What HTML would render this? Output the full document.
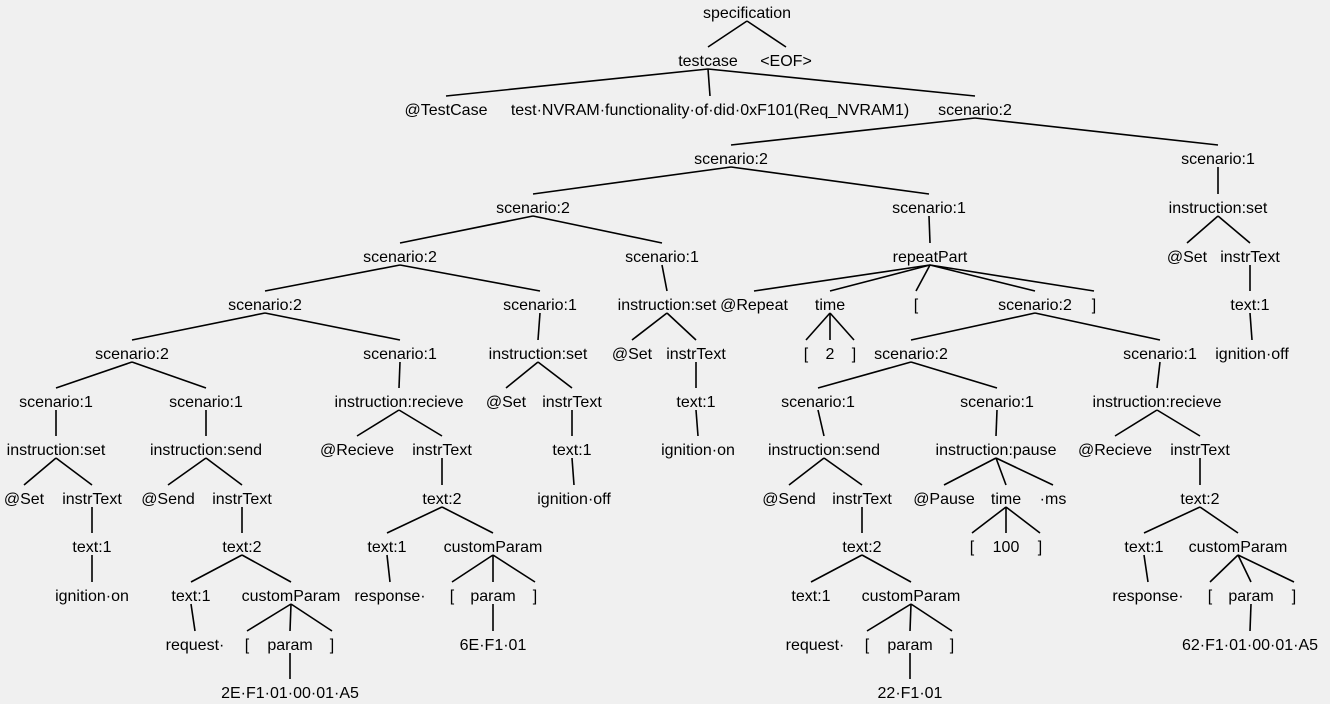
<!DOCTYPE html>
<html><head><meta charset="utf-8"><style>
html,body{margin:0;padding:0;background:#f0f0f0;}
svg{display:block;}
text{font-family:"Liberation Sans",sans-serif;font-size:16px;fill:#000;text-anchor:middle;}
line{stroke:#000;stroke-width:1.6;}
</style></head><body>
<svg width="1330" height="704" viewBox="0 0 1330 704">
<rect width="1330" height="704" fill="#f0f0f0"/>
<g>
<line x1="747" y1="21" x2="708" y2="47"/><line x1="747" y1="21" x2="786" y2="47"/>
<line x1="708" y1="69" x2="446" y2="96"/><line x1="708" y1="69" x2="710" y2="96"/><line x1="708" y1="69" x2="975" y2="96"/>
<line x1="975" y1="118" x2="731" y2="145"/><line x1="975" y1="118" x2="1218" y2="145"/>
<line x1="731" y1="167" x2="533" y2="194"/><line x1="731" y1="167" x2="929" y2="194"/><line x1="1218" y1="167" x2="1218" y2="194"/>
<line x1="533" y1="216" x2="400" y2="243"/><line x1="533" y1="216" x2="662" y2="243"/><line x1="929" y1="216" x2="930" y2="243"/><line x1="1218" y1="216" x2="1187" y2="243"/><line x1="1218" y1="216" x2="1250" y2="243"/>
<line x1="400" y1="265" x2="265" y2="291"/><line x1="400" y1="265" x2="540" y2="291"/><line x1="662" y1="265" x2="667" y2="291"/>
<line x1="930" y1="265" x2="754" y2="291"/><line x1="930" y1="265" x2="830" y2="291"/><line x1="930" y1="265" x2="916" y2="291"/><line x1="930" y1="265" x2="1035" y2="291"/><line x1="930" y1="265" x2="1094" y2="291"/><line x1="1250" y1="265" x2="1250" y2="291"/>
<line x1="265" y1="313" x2="132" y2="340"/><line x1="265" y1="313" x2="400" y2="340"/><line x1="540" y1="313" x2="538" y2="340"/><line x1="667" y1="313" x2="632" y2="340"/><line x1="667" y1="313" x2="696" y2="340"/>
<line x1="830" y1="313" x2="806" y2="340"/><line x1="830" y1="313" x2="830" y2="340"/><line x1="830" y1="313" x2="854" y2="340"/><line x1="1035" y1="313" x2="911" y2="340"/><line x1="1035" y1="313" x2="1160" y2="340"/><line x1="1250" y1="313" x2="1252" y2="340"/>
<line x1="132" y1="362" x2="56" y2="388"/><line x1="132" y1="362" x2="206" y2="388"/><line x1="400" y1="362" x2="399" y2="388"/><line x1="538" y1="362" x2="506" y2="388"/><line x1="538" y1="362" x2="572" y2="388"/><line x1="696" y1="362" x2="696" y2="388"/><line x1="911" y1="362" x2="818" y2="388"/><line x1="911" y1="362" x2="997" y2="388"/><line x1="1160" y1="362" x2="1157" y2="388"/>
<line x1="56" y1="410" x2="56" y2="436"/><line x1="206" y1="410" x2="206" y2="436"/><line x1="399" y1="410" x2="357" y2="436"/><line x1="399" y1="410" x2="442" y2="436"/><line x1="572" y1="410" x2="572" y2="436"/><line x1="696" y1="410" x2="698" y2="436"/><line x1="818" y1="410" x2="824" y2="436"/><line x1="997" y1="410" x2="996" y2="436"/><line x1="1157" y1="410" x2="1115" y2="436"/><line x1="1157" y1="410" x2="1200" y2="436"/>
<line x1="56" y1="458" x2="24" y2="485"/><line x1="56" y1="458" x2="92" y2="485"/><line x1="206" y1="458" x2="168" y2="485"/><line x1="206" y1="458" x2="242" y2="485"/><line x1="442" y1="458" x2="442" y2="485"/><line x1="572" y1="458" x2="574" y2="485"/><line x1="824" y1="458" x2="789" y2="485"/><line x1="824" y1="458" x2="862" y2="485"/><line x1="996" y1="458" x2="944" y2="485"/><line x1="996" y1="458" x2="1006" y2="485"/><line x1="996" y1="458" x2="1053" y2="485"/><line x1="1200" y1="458" x2="1200" y2="485"/>
<line x1="92" y1="507" x2="92" y2="533"/><line x1="242" y1="507" x2="242" y2="533"/><line x1="442" y1="507" x2="387" y2="533"/><line x1="442" y1="507" x2="493" y2="533"/><line x1="862" y1="507" x2="862" y2="533"/><line x1="1006" y1="507" x2="972" y2="533"/><line x1="1006" y1="507" x2="1006" y2="533"/><line x1="1006" y1="507" x2="1040" y2="533"/><line x1="1200" y1="507" x2="1144" y2="533"/><line x1="1200" y1="507" x2="1238" y2="533"/>
<line x1="92" y1="555" x2="92" y2="582"/><line x1="242" y1="555" x2="191" y2="582"/><line x1="242" y1="555" x2="291" y2="582"/><line x1="387" y1="555" x2="390" y2="582"/><line x1="493" y1="555" x2="452" y2="582"/><line x1="493" y1="555" x2="493" y2="582"/><line x1="493" y1="555" x2="535" y2="582"/><line x1="862" y1="555" x2="811" y2="582"/><line x1="862" y1="555" x2="911" y2="582"/><line x1="1144" y1="555" x2="1148" y2="582"/><line x1="1238" y1="555" x2="1210" y2="582"/><line x1="1238" y1="555" x2="1251" y2="582"/><line x1="1238" y1="555" x2="1294" y2="582"/>
<line x1="191" y1="604" x2="195" y2="631"/><line x1="291" y1="604" x2="247" y2="631"/><line x1="291" y1="604" x2="290" y2="631"/><line x1="291" y1="604" x2="332" y2="631"/><line x1="493" y1="604" x2="493" y2="631"/><line x1="911" y1="604" x2="867" y2="631"/><line x1="911" y1="604" x2="910" y2="631"/><line x1="911" y1="604" x2="952" y2="631"/><line x1="1251" y1="604" x2="1250" y2="631"/>
<line x1="290" y1="653" x2="290" y2="679"/><line x1="910" y1="653" x2="910" y2="679"/>
</g>
<g>
<text x="747" y="18">specification</text>
<text x="708" y="66">testcase</text><text x="786" y="66">&lt;EOF&gt;</text>
<text x="446" y="115">@TestCase</text><text x="710" y="115">test·NVRAM·functionality·of·did·0xF101(Req_NVRAM1)</text><text x="975" y="115">scenario:2</text>
<text x="731" y="164">scenario:2</text><text x="1218" y="164">scenario:1</text>
<text x="533" y="213">scenario:2</text><text x="929" y="213">scenario:1</text><text x="1218" y="213">instruction:set</text>
<text x="400" y="262">scenario:2</text><text x="662" y="262">scenario:1</text><text x="930" y="262">repeatPart</text><text x="1187" y="262">@Set</text><text x="1250" y="262">instrText</text>
<text x="265" y="310">scenario:2</text><text x="540" y="310">scenario:1</text><text x="667" y="310">instruction:set</text><text x="754" y="310">@Repeat</text><text x="830" y="310">time</text><text x="916" y="310">[</text><text x="1035" y="310">scenario:2</text><text x="1094" y="310">]</text><text x="1250" y="310">text:1</text>
<text x="132" y="359">scenario:2</text><text x="400" y="359">scenario:1</text><text x="538" y="359">instruction:set</text><text x="632" y="359">@Set</text><text x="696" y="359">instrText</text><text x="806" y="359">[</text><text x="830" y="359">2</text><text x="854" y="359">]</text><text x="911" y="359">scenario:2</text><text x="1160" y="359">scenario:1</text><text x="1252" y="359">ignition·off</text>
<text x="56" y="407">scenario:1</text><text x="206" y="407">scenario:1</text><text x="399" y="407">instruction:recieve</text><text x="506" y="407">@Set</text><text x="572" y="407">instrText</text><text x="696" y="407">text:1</text><text x="818" y="407">scenario:1</text><text x="997" y="407">scenario:1</text><text x="1157" y="407">instruction:recieve</text>
<text x="56" y="455">instruction:set</text><text x="206" y="455">instruction:send</text><text x="357" y="455">@Recieve</text><text x="442" y="455">instrText</text><text x="572" y="455">text:1</text><text x="698" y="455">ignition·on</text><text x="824" y="455">instruction:send</text><text x="996" y="455">instruction:pause</text><text x="1115" y="455">@Recieve</text><text x="1200" y="455">instrText</text>
<text x="24" y="504">@Set</text><text x="92" y="504">instrText</text><text x="168" y="504">@Send</text><text x="242" y="504">instrText</text><text x="442" y="504">text:2</text><text x="574" y="504">ignition·off</text><text x="789" y="504">@Send</text><text x="862" y="504">instrText</text><text x="944" y="504">@Pause</text><text x="1006" y="504">time</text><text x="1053" y="504">·ms</text><text x="1200" y="504">text:2</text>
<text x="92" y="552">text:1</text><text x="242" y="552">text:2</text><text x="387" y="552">text:1</text><text x="493" y="552">customParam</text><text x="862" y="552">text:2</text><text x="972" y="552">[</text><text x="1006" y="552">100</text><text x="1040" y="552">]</text><text x="1144" y="552">text:1</text><text x="1238" y="552">customParam</text>
<text x="92" y="601">ignition·on</text><text x="191" y="601">text:1</text><text x="291" y="601">customParam</text><text x="390" y="601">response·</text><text x="452" y="601">[</text><text x="493" y="601">param</text><text x="535" y="601">]</text><text x="811" y="601">text:1</text><text x="911" y="601">customParam</text><text x="1148" y="601">response·</text><text x="1210" y="601">[</text><text x="1251" y="601">param</text><text x="1294" y="601">]</text>
<text x="195" y="650">request·</text><text x="247" y="650">[</text><text x="290" y="650">param</text><text x="332" y="650">]</text><text x="493" y="650">6E·F1·01</text><text x="815" y="650">request·</text><text x="867" y="650">[</text><text x="910" y="650">param</text><text x="952" y="650">]</text><text x="1250" y="650">62·F1·01·00·01·A5</text>
<text x="290" y="698">2E·F1·01·00·01·A5</text><text x="910" y="698">22·F1·01</text>
</g>
</svg>
</body></html>
